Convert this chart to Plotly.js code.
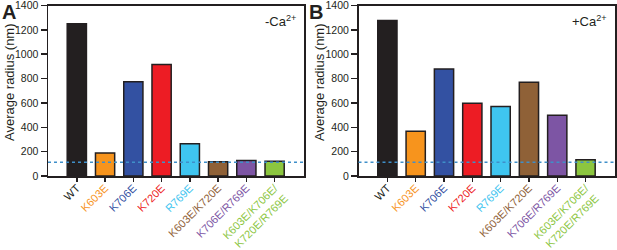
<!DOCTYPE html>
<html>
<head>
<meta charset="utf-8">
<script src="https://cdn.plot.ly/plotly-3.0.1.min.js"></script>
<style>
  html, body { margin: 0; padding: 0; background: #fff; }
  #chart { width: 617px; height: 250px; }
</style>
</head>
<body>
<div id="chart"></div>
<script>
// ---- data ----
const categories = ["WT", "K603E", "K706E", "K720E", "R769E", "K603E/K720E", "K706E/R769E", "K603E/K706E/K720E/R769E"];
const tickLabels = ["WT", "K603E", "K706E", "K720E", "R769E", "K603E/K720E", "K706E/R769E", "K603E/K706E/<br>K720E/R769E"];
const valuesNoCa = [1250, 188, 773, 915, 265, 117, 128, 121];
const valuesCa = [1277, 367, 879, 598, 570, 770, 499, 134];
const colors = ["#231f20", "#f7941d", "#3351a2", "#ed1c24", "#3fc5f0", "#8f6137", "#7d55a4", "#8cc63f"];
const yTicks = [0, 200, 400, 600, 800, 1000, 1200, 1400];
const baseline = [113];
const panelLetters = ["A", "B"];
const conditionLabels = ["-Ca<sup>2+</sup>", "+Ca<sup>2+</sup>"];
const yTitle = "Average radius (nm)";

// ---- layout helpers ----
const W = 617, H = 250;
const font = "Liberation Sans, Arial, Helvetica, sans-serif";
const ink = "#231f20";
const coloredTicks = tickLabels.map((t, i) => `<span style="color:${colors[i]}">${t}</span>`);

function barTrace(vals, xa, ya) {
  return {
    type: "bar",
    x: categories,
    y: vals,
    xaxis: xa, yaxis: ya,
    width: 0.68,
    marker: { color: colors, line: { color: ink, width: 1.5 } },
    hoverinfo: "x+y",
    showlegend: false
  };
}

function xAxis(domain, anchor) {
  return {
    domain: domain, anchor: anchor,
    type: "category",
    range: [-1.02, 8.04],
    tickmode: "array", tickvals: categories, ticktext: coloredTicks,
    tickangle: -45,
    tickfont: { family: font, size: 11, color: ink },
    ticks: "outside", ticklen: 4, tickwidth: 1.5, tickcolor: ink,
    ticklabelstandoff: -4,
    ticklabeloverflow: "allow",
    showline: true, linecolor: ink, linewidth: 1.5, mirror: true,
    showgrid: false, zeroline: false, fixedrange: true, automargin: false
  };
}
function yAxis(domain, anchor) {
  return {
    domain: domain, anchor: anchor,
    range: [0, 1400],
    tickmode: "array", tickvals: yTicks, ticktext: yTicks.map(String),
    tickfont: { family: font, size: 10.5, color: ink },
    ticks: "outside", ticklen: 6, tickwidth: 1.5, tickcolor: ink,
    ticklabeloverflow: "allow",
    showline: true, linecolor: ink, linewidth: 1.5, mirror: true,
    showgrid: false, zeroline: false, fixedrange: true, automargin: false
  };
}

const yDom = [(H - 176) / H, (H - 5.5) / H];
const xDomA = [48 / W, 304 / W];
const xDomB = [358.5 / W, 615 / W];

function yTitleAnn(xpx) {
  return { text: yTitle, xref: "paper", yref: "paper", x: xpx / W, y: 1 - 82 / H,
    xanchor: "center", yanchor: "middle", textangle: -90, showarrow: false,
    font: { family: font, size: 13, color: ink } };
}

const layout = {
  width: W, height: H,
  margin: { l: 0, r: 0, t: 0, b: 0, pad: 0 },
  paper_bgcolor: "#fff", plot_bgcolor: "#fff",
  font: { family: font, color: ink },
  xaxis: xAxis(xDomA, "y"),
  yaxis: yAxis(yDom, "x"),
  xaxis2: xAxis(xDomB, "y2"),
  yaxis2: yAxis(yDom, "x2"),
  shapes: [
    { type: "line", xref: "x domain", yref: "y", x0: 0, x1: 1, y0: baseline[0], y1: baseline[0],
      line: { color: "#3f8fc9", width: 1.3, dash: "dot" }, layer: "above" },
    { type: "line", xref: "x2 domain", yref: "y2", x0: 0, x1: 1, y0: baseline[0], y1: baseline[0],
      line: { color: "#3f8fc9", width: 1.3, dash: "dot" }, layer: "above" }
  ],
  annotations: [
    { text: "<b>" + panelLetters[0] + "</b>", xref: "paper", yref: "paper", x: 0, y: 1.005, xanchor: "left", yanchor: "top",
      showarrow: false, font: { family: font, size: 20, color: ink } },
    { text: "<b>" + panelLetters[1] + "</b>", xref: "paper", yref: "paper", x: 307 / W, y: 1.005, xanchor: "left", yanchor: "top",
      showarrow: false, font: { family: font, size: 20, color: ink } },
    { text: conditionLabels[0], xref: "x domain", yref: "y domain", x: 0.975, y: 0.97, xanchor: "right", yanchor: "top",
      showarrow: false, font: { family: font, size: 13, color: ink } },
    { text: conditionLabels[1], xref: "x2 domain", yref: "y2 domain", x: 0.975, y: 0.97, xanchor: "right", yanchor: "top",
      showarrow: false, font: { family: font, size: 13, color: ink } },
    yTitleAnn(9),
    yTitleAnn(319)
  ]
};

Plotly.newPlot("chart", [barTrace(valuesNoCa, "x", "y"), barTrace(valuesCa, "x2", "y2")], layout,
  { displayModeBar: false, staticPlot: true });
</script>
</body>
</html>
